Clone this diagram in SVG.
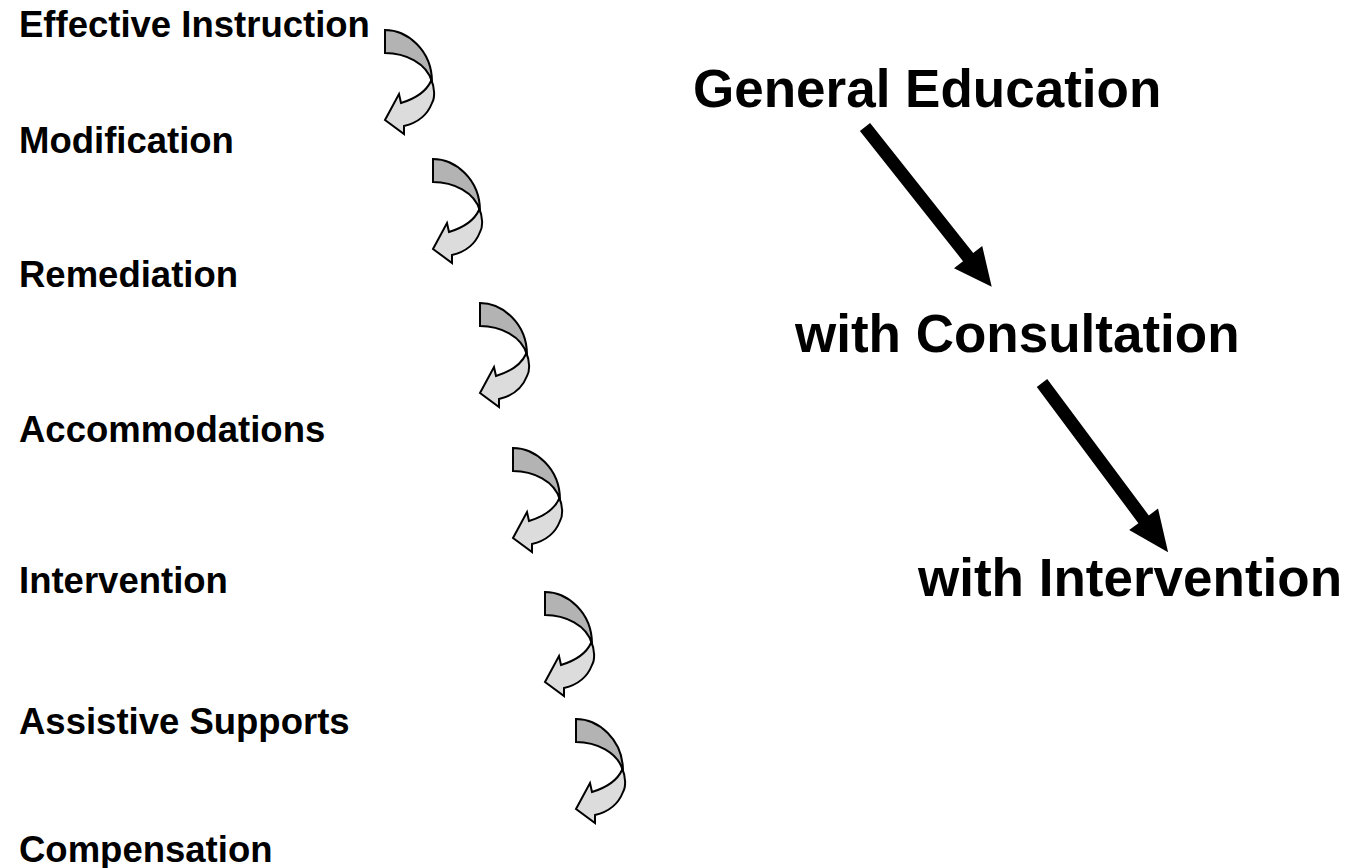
<svg xmlns="http://www.w3.org/2000/svg" width="1347" height="868" viewBox="0 0 1347 868">
<style>
.lbl{font-family:"Liberation Sans",Arial,sans-serif;font-weight:bold;font-size:36.5px;fill:#000}
.big{font-family:"Liberation Sans",Arial,sans-serif;font-weight:bold;font-size:53px;fill:#000}
.dark{fill:#b3b3b3;stroke:#000;stroke-width:2;stroke-linejoin:miter}
.light{fill:#dcdcdc;stroke:#000;stroke-width:2;stroke-linejoin:miter}
.blk{fill:#000}
</style>
<defs>
<g id="curl">
<path class="light" d="M46,49 C50,58 50,68 47,73 C42,86 32,93 19,96 L19,104 L0,90 L14,64 L16,73 C29,69 41,62 46,51 Z"/>
<path class="dark" d="M0,0 C22,0 47,20 47,52 C42,33 20,23 0,23 Z"/>
</g>
</defs>
<rect width="1347" height="868" fill="#fff"/>
<g id="labels">
<g id="n-effective"><text class="lbl" x="19" y="37">Effective Instruction</text></g>
<g id="n-modification"><text class="lbl" x="19" y="153">Modification</text></g>
<g id="n-remediation"><text class="lbl" x="19" y="287">Remediation</text></g>
<g id="n-accommodations"><text class="lbl" x="19" y="442">Accommodations</text></g>
<g id="n-intervention"><text class="lbl" x="19" y="593">Intervention</text></g>
<g id="n-assistive"><text class="lbl" x="19" y="734">Assistive Supports</text></g>
<g id="n-compensation"><text class="lbl" x="19" y="862">Compensation</text></g>
<g id="n-general"><text class="big" x="693" y="107">General Education</text></g>
<g id="n-consultation"><text class="big" x="795" y="352">with Consultation</text></g>
<g id="n-withintervention"><text class="big" x="918" y="596">with Intervention</text></g>
</g>
<g id="connectors">
<use href="#curl" transform="translate(385,30)"/>
<use href="#curl" transform="translate(433,159)"/>
<use href="#curl" transform="translate(480,303)"/>
<use href="#curl" transform="translate(513,448)"/>
<use href="#curl" transform="translate(545,592)"/>
<use href="#curl" transform="translate(576,719)"/>
<polygon class="blk" transform="translate(865,127) rotate(51.6)" points="0,-6.5 166,-6.5 166,-18 204,0 166,18 166,6.5 0,6.5"/>
<polygon class="blk" transform="translate(1042,383) rotate(53.3)" points="0,-6.5 170,-6.5 170,-18 211,0 170,18 170,6.5 0,6.5"/>
</g>
</svg>
